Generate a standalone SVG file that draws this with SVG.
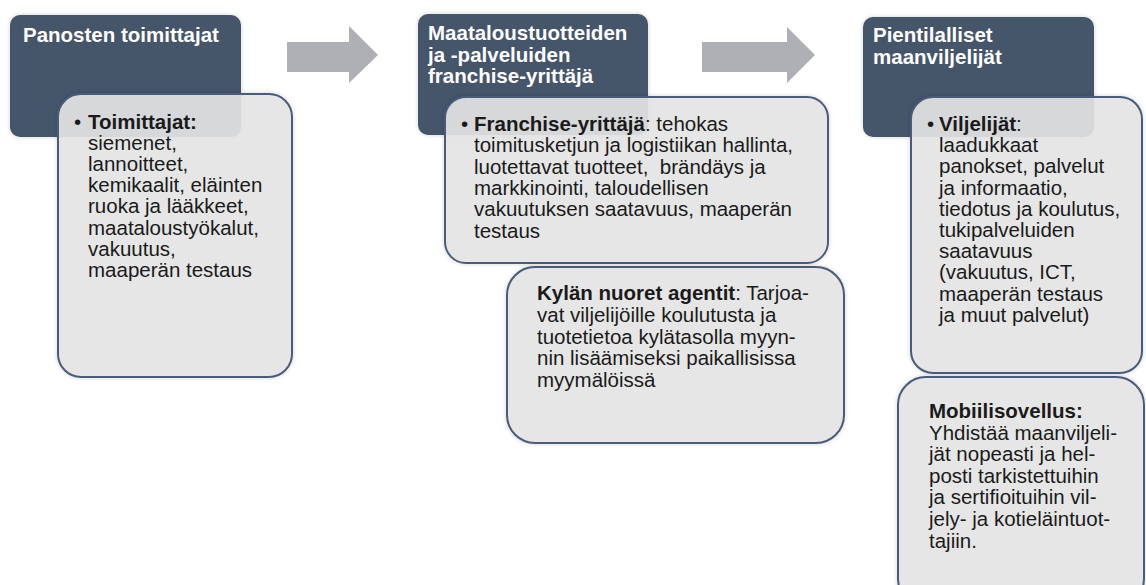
<svg xmlns="http://www.w3.org/2000/svg" width="1146" height="585" viewBox="0 0 1146 585">
<defs>
<filter id="sh" x="-10%" y="-10%" width="120%" height="120%">
<feGaussianBlur in="SourceAlpha" stdDeviation="2"/>
<feOffset dx="0" dy="0" result="b"/>
<feFlood flood-color="#000" flood-opacity="0.18"/>
<feComposite in2="b" operator="in"/>
<feMerge><feMergeNode/><feMergeNode in="SourceGraphic"/></feMerge>
</filter>
</defs>
<style>
.dark{fill:#44546a;filter:url(#sh)}
.light{fill:#e6e6e6;fill-opacity:0.9;stroke:#4a5c7a;stroke-width:2;filter:url(#sh)}
.title{font-family:"Liberation Sans",Arial,sans-serif;font-size:20.5px;font-weight:bold;fill:#ffffff}
.body{font-family:"Liberation Sans",Arial,sans-serif;font-size:20.5px;fill:#1a1a1a}
.b{font-weight:bold}
.arrow{fill:#aeb0b5}
</style>
<g id="connectors">
<polygon class="arrow" points="287,42 349,42 349,26 378,55 349,83 349,72 287,72"/>
<polygon class="arrow" points="702,42 787,42 787,27 815,55 787,83 787,72 702,72"/>
</g>
<g id="node-panosten">
<rect class="dark" x="10" y="15" width="231" height="122" rx="10"/>
<text class="title" x="23" y="42">Panosten toimittajat</text>
</g>
<g id="node-toimittajat">
<rect class="light" x="58" y="94" width="234" height="283" rx="23"/>
<text class="body"><tspan x="74" y="128.5">•</tspan><tspan x="88" y="128.5" class="b">Toimittajat:</tspan>
<tspan x="88" y="149.7">siemenet,</tspan>
<tspan x="88" y="170.9">lannoitteet,</tspan>
<tspan x="88" y="192.1">kemikaalit, eläinten</tspan>
<tspan x="88" y="213.3">ruoka ja lääkkeet,</tspan>
<tspan x="88" y="234.5">maataloustyökalut,</tspan>
<tspan x="88" y="255.7">vakuutus,</tspan>
<tspan x="88" y="276.9">maaperän testaus</tspan></text>
</g>
<g id="node-maatalous">
<rect class="dark" x="418" y="14" width="230" height="121" rx="10"/>
<text class="title"><tspan x="428" y="40">Maataloustuotteiden</tspan><tspan x="428" y="61.5">ja -palveluiden</tspan><tspan x="428" y="83">franchise-yrittäjä</tspan></text>
</g>
<g id="node-franchise">
<rect class="light" x="445" y="97" width="383" height="166" rx="21"/>
<text class="body" xml:space="preserve"><tspan x="461" y="131">•</tspan><tspan x="474" y="131"><tspan class="b">Franchise-yrittäjä</tspan>: tehokas</tspan><tspan x="474" y="152.3">toimitusketjun ja logistiikan hallinta,</tspan><tspan x="474" y="173.6">luotettavat tuotteet,  brändäys ja</tspan><tspan x="474" y="194.9">markkinointi, taloudellisen</tspan><tspan x="474" y="216.2">vakuutuksen saatavuus, maaperän</tspan><tspan x="474" y="237.5">testaus</tspan></text>
</g>
<g id="node-kylan">
<rect class="light" x="507" y="267" width="337" height="176" rx="28"/>
<text class="body"><tspan x="537" y="300"><tspan class="b">Kylän nuoret agentit</tspan>: Tarjoa-</tspan><tspan x="537" y="321.8">vat viljelijöille koulutusta ja</tspan><tspan x="537" y="343.6">tuotetietoa kylätasolla myyn-</tspan><tspan x="537" y="365.4">nin lisäämiseksi paikallisissa</tspan><tspan x="537" y="387.2">myymälöissä</tspan></text>
</g>
<g id="node-pientilalliset">
<rect class="dark" x="863" y="17" width="231" height="120" rx="10"/>
<text class="title"><tspan x="873" y="42">Pientilalliset</tspan><tspan x="873" y="63.5">maanviljelijät</tspan></text>
</g>
<g id="node-viljelijat">
<rect class="light" x="911" y="97" width="231" height="276" rx="22"/>
<text class="body"><tspan x="927" y="131">•</tspan><tspan x="939" y="131"><tspan class="b">Viljelijät</tspan>:</tspan><tspan x="939" y="152.2">laadukkaat</tspan><tspan x="939" y="173.4">panokset, palvelut</tspan><tspan x="939" y="194.6">ja informaatio,</tspan><tspan x="939" y="215.8">tiedotus ja koulutus,</tspan><tspan x="939" y="237">tukipalveluiden</tspan><tspan x="939" y="258.2">saatavuus</tspan><tspan x="939" y="279.4">(vakuutus, ICT,</tspan><tspan x="939" y="300.6">maaperän testaus</tspan><tspan x="939" y="321.8">ja muut palvelut)</tspan></text>
</g>
<g id="node-mobiili">
<rect class="light" x="898" y="377" width="246" height="230" rx="28"/>
<text class="body"><tspan x="929" y="418" class="b">Mobiilisovellus:</tspan><tspan x="929" y="439.6">Yhdistää maanviljeli-</tspan><tspan x="929" y="461.2">jät nopeasti ja hel-</tspan><tspan x="929" y="482.8">posti tarkistettuihin</tspan><tspan x="929" y="504.4">ja sertifioituihin vil-</tspan><tspan x="929" y="526">jely- ja kotieläintuot-</tspan><tspan x="929" y="547.6">tajiin.</tspan></text>
</g>
</svg>
